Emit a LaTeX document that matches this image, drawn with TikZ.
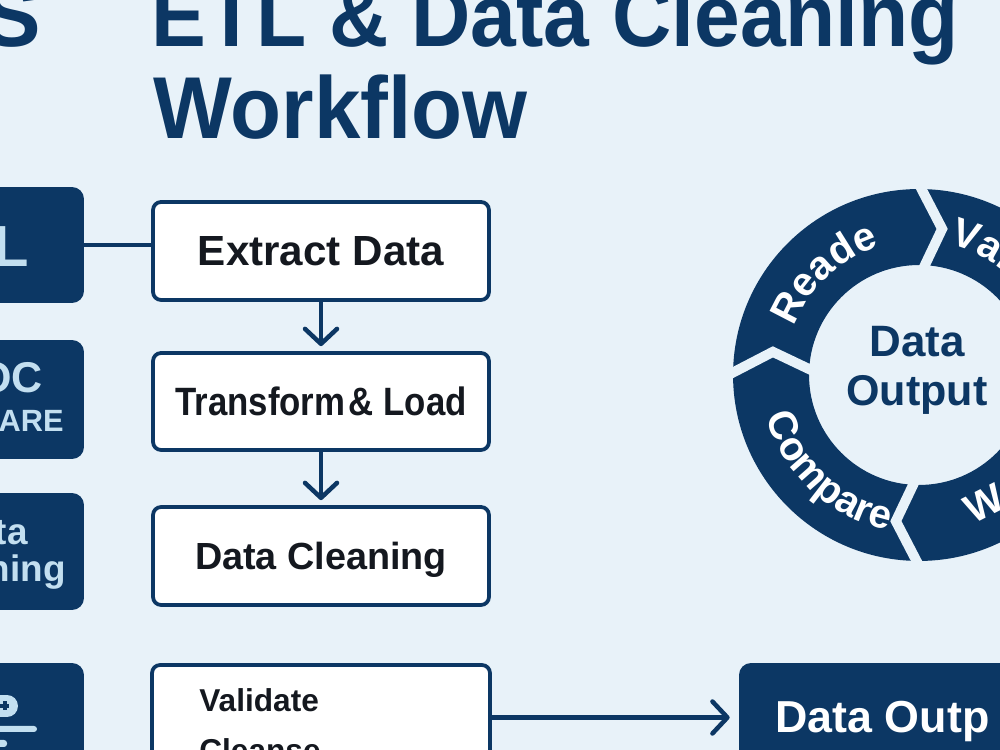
\documentclass[tikz,border=0pt]{standalone}
\usepackage{fontspec}
\setmainfont{Liberation Sans}
\usetikzlibrary{arrows.meta,decorations.text,calc}
\definecolor{navy}{HTML}{0C3764}
\definecolor{bgc}{HTML}{E8F2F9}
\definecolor{lite}{HTML}{C3DFF0}
\definecolor{ink}{HTML}{14181F}
\newcommand{\fs}[1]{\fontsize{#1}{#1}\selectfont\bfseries}
\begin{document}
\begin{tikzpicture}[x=0.02cm,y=0.02cm,
  titletxt/.style={text=navy, font=\fs{50}, inner sep=0pt},
  darkbox/.style={fill=navy, rounded corners=0.24cm, inner sep=0pt},
  whitebox/.style={draw=navy, fill=white, line width=0.075cm, rounded corners=0.16cm, inner sep=0pt, minimum width=6.72cm, text=ink, text depth=0pt},
  litetxt/.style={text=lite, inner sep=0pt},
  conn/.style={draw=navy, line width=0.09cm},
  arr/.style={conn, -{Straight Barb[length=0.3cm,width=0.64cm,round]}},
  ringtxt/.style={decorate, decoration={text along path, text color=white, text={|\fs{23}|#1}}}
]
\useasboundingbox (0,0) rectangle (1000,750);
\fill[bgc] (0,0) rectangle (1000,750);
\begin{scope}
\clip (0,0) rectangle (1000,750);

% title
\node[titletxt, anchor=base east] (t0) at (41,703) {S};
\node[titletxt, anchor=base west] (t1) at (151,703) {\scalebox{0.935}[1]{ETL \& Data Cleaning}};
\node[titletxt, anchor=base west] (t2) at (153,611) {\scalebox{0.95}[1]{Workflow}};

% left dark boxes
\node[darkbox, minimum width=2.08cm, minimum height=2.32cm] (b1) at (32,505) {};
\node[darkbox, minimum width=2.08cm, minimum height=2.38cm] (b2) at (32,350.5) {};
\node[darkbox, minimum width=2.08cm, minimum height=2.34cm] (b3) at (32,198.5) {};
\node[darkbox, minimum width=2.08cm, minimum height=2.14cm] (b4) at (32,33.5) {};
\node[litetxt, font=\fs{33}, anchor=base east] (l1) at (29,483) {L};
\node[litetxt, font=\fs{24.5}, anchor=base east] (l2a) at (43,357) {OC};
\node[litetxt, font=\fs{17.5}, anchor=base east] (l2b) at (64,318) {PARE};
\node[litetxt, font=\fs{21}, anchor=base east] (l3a) at (28,205) {ta};
\node[litetxt, font=\fs{21}, anchor=base east] (l3b) at (66,168) {ning};
% icon in box 4
\fill[lite] (-12,33) -- (7,33) arc[start angle=-90, end angle=90, radius=0.22cm] -- (-12,55) -- cycle;
\fill[navy] (0,42) rectangle (9,46);
\fill[navy] (2.5,39.5) rectangle (6.5,48.5);
\fill[lite, rounded corners=0.06cm] (-10,18) rectangle (37,24);
\fill[lite, rounded corners=0.06cm] (-10,3) rectangle (7,10);

% centre column
\node[whitebox, minimum height=1.96cm, font=\fs{24}] (ext) at (321,499) {Extract Data};
\node[whitebox, minimum height=1.94cm, font=\fs{22.5}] (tl) at (321,348.5) {\scalebox{0.88}[1]{Transform\hspace{0.1em}\& Load}};
\node[whitebox, minimum height=1.96cm, font=\fs{21.5}] (dc) at (321,194) {Data Cleaning};
\node[whitebox, minimum width=6.76cm, minimum height=2.1cm] (val) at (321,32.5) {};
\node[text=ink, font=\fs{18}, anchor=base west, inner sep=0pt] (vt1) at (199,38) {Validate};
\node[text=ink, font=\fs{18}, anchor=base west, inner sep=0pt] (vt2) at (199,-11) {Cleanse};

\draw[conn] (b1.east) -- (b1.east -| ext.west);
\draw[arr, shorten >=0.1cm] (ext.south) -- (tl.north);
\draw[arr, shorten >=0.1cm] (tl.south) -- (dc.north);

% data output box
\node[darkbox, minimum width=5.62cm, minimum height=2.14cm] (dout) at (879.5,33.5) {};
\node[text=white, font=\fs{25.5}, anchor=base west, inner sep=0pt] (dot) at (775,17) {Data Outp};
\draw[arr, shorten >=0.18cm] (val.east) -- (val.east -| dout.west);

% ring
\coordinate (rc) at (919,375);
\fill[navy, even odd rule] (rc) circle[radius=3.72cm] (rc) circle[radius=2.2cm];
\foreach \t in {0,90,180,270}
  \draw[bgc, line width=0.2cm, line join=miter]
    ($(rc)+(\t+1:3.95cm)$) -- ($(rc)+(\t-9:2.96cm)$) -- ($(rc)+(\t:1.95cm)$);
\path[ringtxt={Reade}, decoration={text align=center}]
  ($(rc)+(177:2.68cm)$) arc[start angle=177, end angle=89, radius=2.68cm];
\path[ringtxt={Compare}, decoration={text align=center}]
  ($(rc)+(183:3.16cm)$) arc[start angle=183, end angle=271, radius=3.16cm];
\path[ringtxt={Val}, decoration={text align=left}]
  ($(rc)+(77:2.68cm)$) arc[start angle=77, end angle=10, radius=2.68cm];
\path[ringtxt={W}, decoration={text align=left}]
  ($(rc)+(290:3.16cm)$) arc[start angle=290, end angle=350, radius=3.16cm];
\node[text=navy, font=\fs{25}, text depth=0pt, inner sep=0pt] (rd1) at (917,409) {Data};
\node[text=navy, font=\fs{24.5}, text depth=0pt, inner sep=0pt] (rd2) at (917,360) {Output};
\end{scope}
\end{tikzpicture}
\end{document}
